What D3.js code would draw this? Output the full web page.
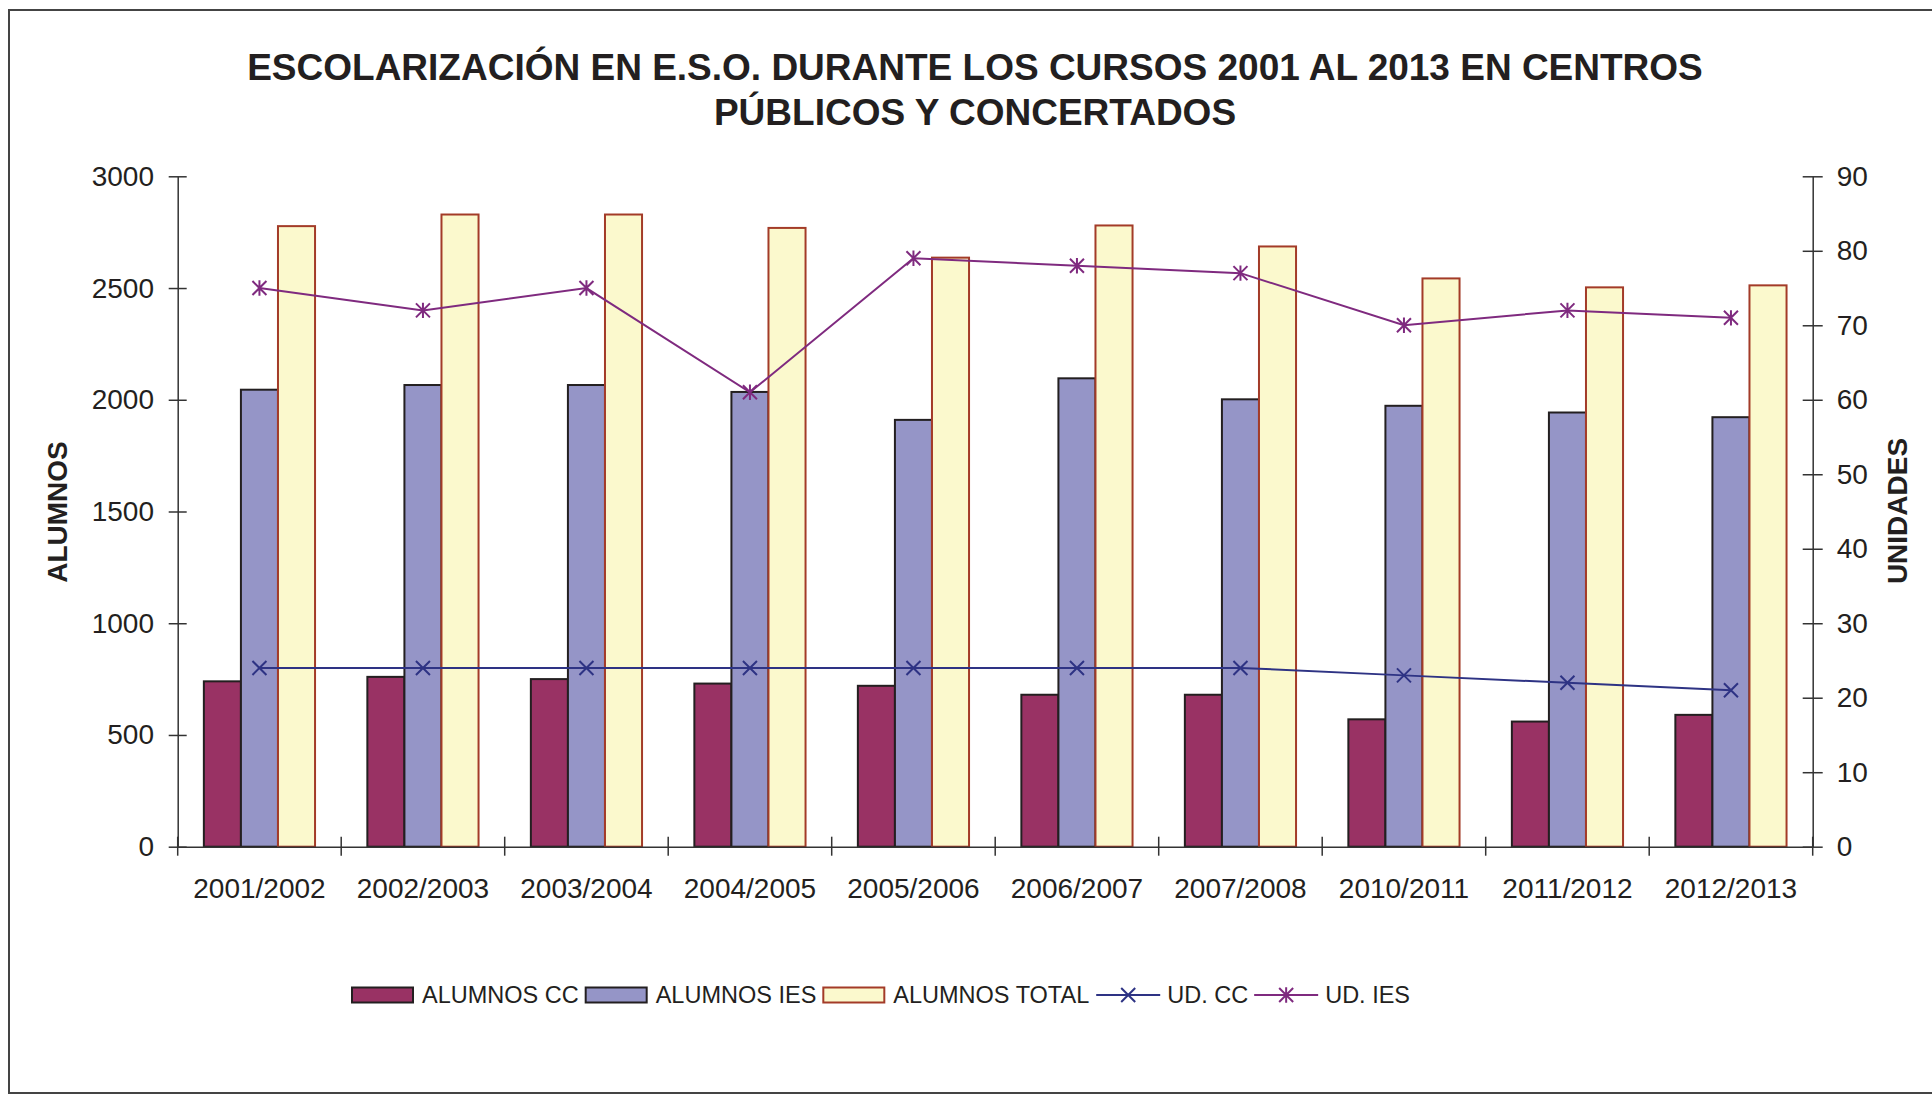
<!DOCTYPE html>
<html>
<head>
<meta charset="utf-8">
<script src="https://cdn.jsdelivr.net/npm/d3@7"></script>
<style>
  body { margin: 0; background: #fff; overflow: hidden; }
  svg { display: block; }
  svg text { font-family: "Liberation Sans", Arial, sans-serif; fill: #231f20; }
  .axis path, .axis line { stroke: #333; stroke-width: 1.5; }
  .axis text { font-size: 28px; }
</style>
</head>
<body>
<script>
// data
var cursos = ["2001/2002", "2002/2003", "2003/2004", "2004/2005", "2005/2006",
              "2006/2007", "2007/2008", "2010/2011", "2011/2012", "2012/2013"];
var alumnos_cc    = [740, 760, 750, 730, 720, 680, 680, 570, 560, 590];
var alumnos_ies   = [2045, 2066, 2066, 2035, 1910, 2096, 2002, 1973, 1943, 1922];
var alumnos_total = [2777, 2829, 2829, 2769, 2636, 2780, 2686, 2543, 2503, 2512];
var ud_cc  = [24, 24, 24, 24, 24, 24, 24, 23, 22, 21];
var ud_ies = [75, 72, 75, 61, 79, 78, 77, 70, 72, 71];
var left_ticks  = [0, 500, 1000, 1500, 2000, 2500, 3000];
var right_ticks = [0, 10, 20, 30, 40, 50, 60, 70, 80, 90];

var bar_series = [
    {name: "ALUMNOS CC", values: alumnos_cc, fill: "#993264", stroke: "#231f20"},
    {name: "ALUMNOS IES", values: alumnos_ies, fill: "#9595c7", stroke: "#231f20"},
    {name: "ALUMNOS TOTAL", values: alumnos_total, fill: "#fbf9cd", stroke: "#a33b28"}];
var line_series = [
    {name: "UD. CC", values: ud_cc, color: "#2e3384", marker: "x"},
    {name: "UD. IES", values: ud_ies, color: "#7f2a7f", marker: "star"}];

// chart box
var W = 1932, H = 1096;
var x0 = 177.7, x1 = 1812.7, y_top = 176.3, y_bot = 846.7;

var svg = d3.select("body").append("svg")
        .attr("width", W)
        .attr("height", H);

// outer border: top, left and bottom only (right side is cut off)
svg.append("path")
        .attr("d", "M" + W + ",10H9V1093H" + W)
        .style("fill", "none")
        .style("stroke", "#444")
        .style("stroke-width", 2);

// title
var title_lines = ["ESCOLARIZACIÓN EN E.S.O. DURANTE LOS CURSOS 2001 AL 2013 EN CENTROS",
                   "PÚBLICOS Y CONCERTADOS"];
svg.selectAll(".title").data(title_lines).enter()
        .append("text")
        .attr("class", "title")
        .text(function(d){ return d; })
        .attr("x", 975)
        .attr("y", function(d, i){ return 80 + i*45; })
        .attr("text-anchor", "middle")
        .style("font-size", "37px")
        .style("font-weight", "bold");

// scales
var scale_x = d3.scaleBand().domain(cursos).range([x0, x1]);
var bw = scale_x.bandwidth();
var scale_inner = d3.scaleBand()
        .domain(bar_series.map(function(s){ return s.name; }))
        .range([bw*0.16, bw*0.84]);
var scale_y = d3.scaleLinear().domain([0, 3000]).range([y_bot, y_top]);
var scale_y2 = d3.scaleLinear().domain([0, 90]).range([y_bot, y_top]);

// bars
bar_series.forEach(function(s){
    svg.append("g").selectAll("rect")
            .data(s.values).enter()
            .append("rect")
            .attr("x", function(d, i){ return scale_x(cursos[i]) + scale_inner(s.name); })
            .attr("y", function(d){ return scale_y(d); })
            .attr("width", scale_inner.bandwidth())
            .attr("height", function(d){ return y_bot - scale_y(d); })
            .style("fill", s.fill)
            .style("stroke", s.stroke)
            .style("stroke-width", 2);
});

// left axis
var ax_left = svg.append("g")
        .attr("class", "axis")
        .attr("transform", "translate(" + x0 + ",0)")
        .call(d3.axisLeft(scale_y).tickValues(left_ticks).tickFormat(d3.format("d"))
                .tickSize(9).tickPadding(14.7).tickSizeOuter(0));
ax_left.selectAll(".tick line").attr("x1", 9);

// right axis
var ax_right = svg.append("g")
        .attr("class", "axis")
        .attr("transform", "translate(" + x1 + ",0)")
        .call(d3.axisRight(scale_y2).tickValues(right_ticks).tickFormat(d3.format("d"))
                .tickSize(10).tickPadding(14).tickSizeOuter(0));
ax_right.selectAll(".tick line").attr("x1", -10);

// bottom axis: labels at band centres, ticks at band edges
var ax_bottom = svg.append("g")
        .attr("class", "axis")
        .attr("transform", "translate(0," + y_bot + ")")
        .call(d3.axisBottom(scale_x).tickSize(0).tickPadding(31).tickSizeOuter(0));
var edges = cursos.map(function(c){ return scale_x(c); }).concat([x1]);
ax_bottom.selectAll(".edge").data(edges).enter()
        .append("line")
        .attr("class", "edge")
        .attr("x1", function(d){ return d; })
        .attr("x2", function(d){ return d; })
        .attr("y1", -10)
        .attr("y2", 9);

// axis titles
svg.append("text")
        .text("ALUMNOS")
        .attr("transform", "translate(67,512) rotate(-90)")
        .attr("text-anchor", "middle")
        .style("font-size", "28px")
        .style("font-weight", "bold");
svg.append("text")
        .text("UNIDADES")
        .attr("transform", "translate(1907,511) rotate(-90)")
        .attr("text-anchor", "middle")
        .style("font-size", "28px")
        .style("font-weight", "bold");

// marker shapes
function marker_path(type, r){
    var p = "M" + (-r) + "," + (-r) + "L" + r + "," + r +
            "M" + (-r) + "," + r + "L" + r + "," + (-r);
    if (type == "star") p += "M0," + (-r*1.1) + "L0," + (r*1.1);
    return p;
}

// lines
line_series.forEach(function(s){
    var line = d3.line()
            .x(function(d, i){ return scale_x(cursos[i]) + bw/2; })
            .y(function(d){ return scale_y2(d); });
    svg.append("path")
            .attr("d", line(s.values))
            .style("fill", "none")
            .style("stroke", s.color)
            .style("stroke-width", 2);
    svg.append("g").selectAll("path")
            .data(s.values).enter()
            .append("path")
            .attr("transform", function(d, i){
                return "translate(" + (scale_x(cursos[i]) + bw/2) + "," + scale_y2(d) + ")"; })
            .attr("d", marker_path(s.marker, 7))
            .style("fill", "none")
            .style("stroke", s.color)
            .style("stroke-width", 2);
});

// legend
var leg = svg.append("g").attr("class", "legend");
var lx = 352, ly = 995;
bar_series.forEach(function(s){
    leg.append("rect")
            .attr("x", lx).attr("y", ly - 7.5)
            .attr("width", 61).attr("height", 15)
            .style("fill", s.fill)
            .style("stroke", s.stroke)
            .style("stroke-width", 2);
    var t = leg.append("text")
            .text(s.name)
            .attr("x", lx + 70).attr("y", ly + 8)
            .style("font-size", "23.5px");
    lx = lx + 70 + t.node().getComputedTextLength() + 7;
});
line_series.forEach(function(s){
    leg.append("line")
            .attr("x1", lx).attr("x2", lx + 64)
            .attr("y1", ly).attr("y2", ly)
            .style("stroke", s.color)
            .style("stroke-width", 2);
    leg.append("path")
            .attr("transform", "translate(" + (lx + 32) + "," + ly + ")")
            .attr("d", marker_path(s.marker, 7))
            .style("fill", "none")
            .style("stroke", s.color)
            .style("stroke-width", 2);
    var t = leg.append("text")
            .text(s.name)
            .attr("x", lx + 71).attr("y", ly + 8)
            .style("font-size", "23.5px");
    lx = lx + 71 + t.node().getComputedTextLength() + 6;
});
</script>
</body>
</html>
